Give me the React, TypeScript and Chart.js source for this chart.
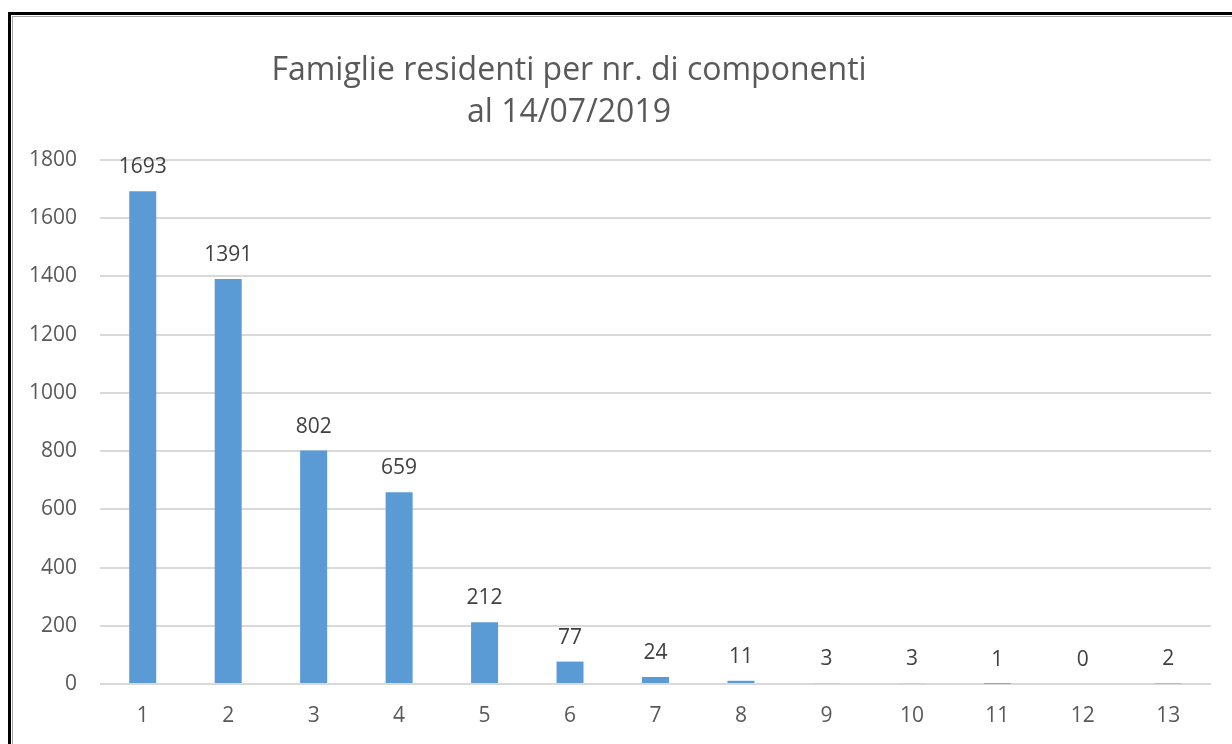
import React, { useEffect, useRef } from "react";
import { Chart, registerables } from "chart.js";

Chart.register(...registerables);

const categories = ["1", "2", "3", "4", "5", "6", "7", "8", "9", "10", "11", "12", "13"];
const famiglie = [1693, 1391, 802, 659, 212, 77, 24, 11, 3, 3, 1, 0, 2];
const titleLines = ["Famiglie residenti per nr. di componenti", "al 14/07/2019"];
const yMax = 1800;
const yStep = 200;

const FONT = "'Open Sans', sans-serif";

const valueLabels = {
  id: "valueLabels",
  afterDatasetsDraw(chart: any) {
    const ctx = chart.ctx;
    const meta = chart.getDatasetMeta(0);
    ctx.save();
    ctx.fillStyle = "#404040";
    ctx.font = `21px ${FONT}`;
    ctx.textAlign = "center";
    ctx.textBaseline = "middle";
    meta.data.forEach((bar: any, i: number) => {
      ctx.fillText(String(famiglie[i]), bar.x, bar.y - 24);
    });
    ctx.restore();
  },
};

const titlePlugin = {
  id: "customTitle",
  afterDraw(chart: any) {
    const ctx = chart.ctx;
    ctx.save();
    ctx.fillStyle = "#595959";
    ctx.font = `32px ${FONT}`;
    ctx.textAlign = "center";
    ctx.textBaseline = "middle";
    ctx.fillText(titleLines[0], 569, 71);
    ctx.fillText(titleLines[1], 569, 113);
    ctx.restore();
  },
};

export default function App() {
  const ref = useRef<HTMLCanvasElement>(null);
  useEffect(() => {
    if (!ref.current) return;
    const chart = new Chart(ref.current, {
      type: "bar",
      data: {
        labels: categories,
        datasets: [
          {
            data: famiglie,
            backgroundColor: "#5B9BD5",
            barPercentage: 0.316,
            categoryPercentage: 1,
          },
        ],
      },
      options: {
        animation: false,
        responsive: false,
        maintainAspectRatio: false,
        layout: { padding: { top: 160, left: 0, right: 21, bottom: 0 } },
        plugins: {
          legend: { display: false },
          title: { display: false },
          tooltip: { enabled: false },
        },
        scales: {
          x: {
            grid: { display: false, drawTicks: false },
            border: { display: false },
            ticks: { color: "#595959", font: { family: FONT, size: 21 }, padding: 19 },
            afterFit(scale: any) {
              scale.height = 60;
            },
          },
          y: {
            min: 0,
            max: yMax,
            ticks: {
              stepSize: yStep,
              color: "#595959",
              font: { family: FONT, size: 21 },
              padding: 23,
              callback: (v: any) => String(v),
            },
            grid: { color: "#D9D9D9", lineWidth: 2, drawTicks: false },
            border: { display: false },
            afterFit(scale: any) {
              scale.width = 100;
            },
          },
        },
      },
      plugins: [valueLabels, titlePlugin],
    });
    return () => chart.destroy();
  }, []);

  return (
    <div style={{ position: "fixed", left: 0, top: 0, width: 1232, height: 744, background: "#fff", overflow: "hidden" }}>
      <div style={{ position: "absolute", left: 8, top: 12, width: 1400, height: 900, borderLeft: "3px solid #000", borderTop: "3px solid #000" }} />
      <div style={{ position: "absolute", left: 12, top: 16, width: 1400, height: 900, borderLeft: "1px solid #A6A6A6", borderTop: "1px solid #A6A6A6" }} />
      <canvas ref={ref} width={1232} height={744} style={{ position: "absolute", left: 0, top: 0, width: 1232, height: 744 }} />
    </div>
  );
}
